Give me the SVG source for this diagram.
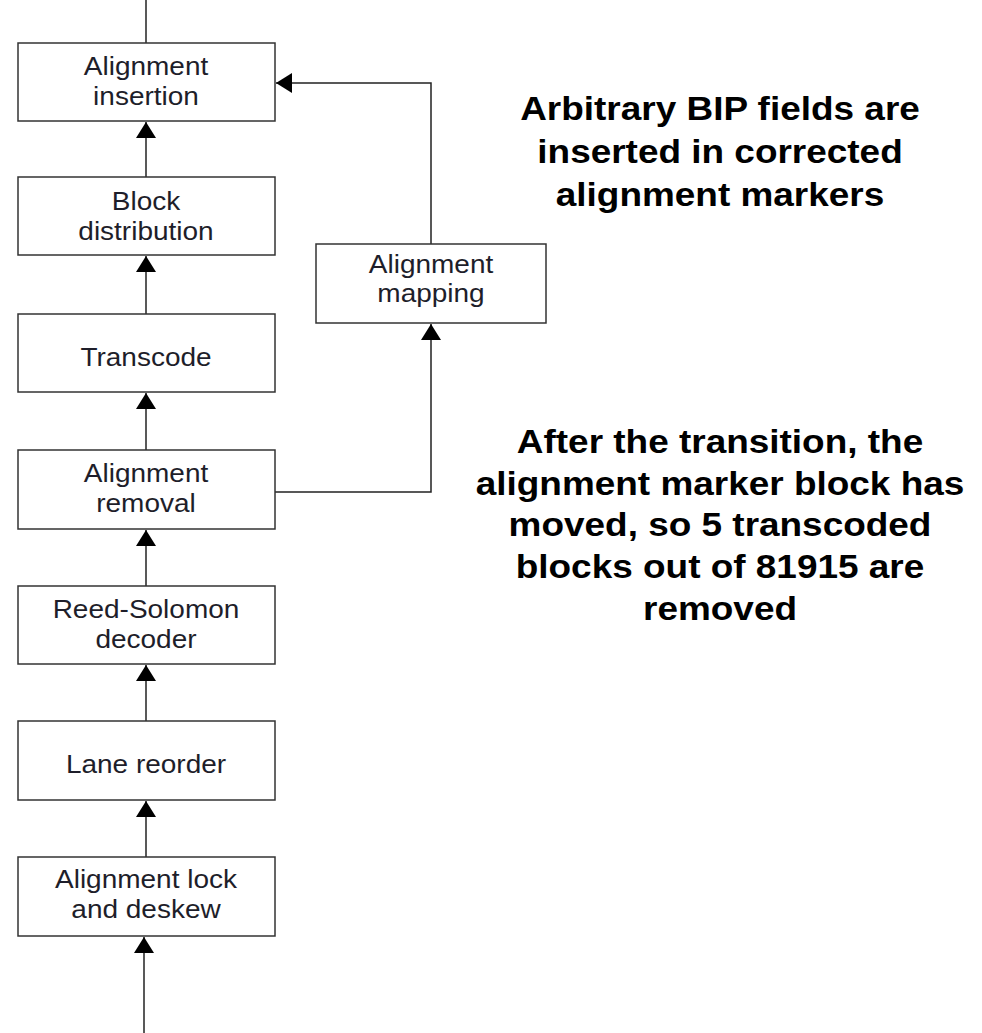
<svg xmlns="http://www.w3.org/2000/svg" width="982" height="1033" viewBox="0 0 982 1033">
  <style>
    .box { fill: #ffffff; stroke: #333333; stroke-width: 1.5; }
    .wire { fill: none; stroke: #222222; stroke-width: 1.5; }
    .lbl { font-family: "Liberation Sans", Arial, sans-serif; font-size: 25px; fill: #1e1e2a; text-anchor: middle; }
    .note { font-family: "Liberation Sans", Arial, sans-serif; font-size: 33px; font-weight: bold; fill: #000000; text-anchor: middle; }
  </style>
  <defs>
    <marker id="arr" viewBox="0 0 16 20" refX="16" refY="10" markerWidth="16" markerHeight="20" markerUnits="userSpaceOnUse" orient="auto">
      <path d="M0,0 L16,10 L0,20 Z" fill="#000000"/>
    </marker>
  </defs>
  <rect width="982" height="1033" fill="#ffffff"/>

  <g id="connectors">
    <line class="wire" x1="146" y1="0" x2="146" y2="43"/>
    <line class="wire" x1="146" y1="177" x2="146" y2="122" marker-end="url(#arr)"/>
    <line class="wire" x1="146" y1="314" x2="146" y2="256" marker-end="url(#arr)"/>
    <line class="wire" x1="146" y1="450" x2="146" y2="393" marker-end="url(#arr)"/>
    <line class="wire" x1="146" y1="586" x2="146" y2="530" marker-end="url(#arr)"/>
    <line class="wire" x1="146" y1="721" x2="146" y2="665" marker-end="url(#arr)"/>
    <line class="wire" x1="146" y1="857" x2="146" y2="801" marker-end="url(#arr)"/>
    <line class="wire" x1="144" y1="1033" x2="144" y2="937" marker-end="url(#arr)"/>
    <polyline class="wire" points="275,492 431,492 431,324" marker-end="url(#arr)"/>
    <polyline class="wire" points="431,244 431,83 276,83" marker-end="url(#arr)"/>
  </g>

  <g id="alignment-insertion">
    <rect class="box" x="18" y="43" width="257" height="78"/>
    <text class="lbl" transform="translate(146,75) scale(1.12,1)"><tspan x="0">Alignment</tspan><tspan x="0" dy="30">insertion</tspan></text>
  </g>
  <g id="block-distribution">
    <rect class="box" x="18" y="177" width="257" height="78"/>
    <text class="lbl" transform="translate(146,210) scale(1.12,1)"><tspan x="0">Block</tspan><tspan x="0" dy="30">distribution</tspan></text>
  </g>
  <g id="transcode">
    <rect class="box" x="18" y="314" width="257" height="78"/>
    <text class="lbl" transform="translate(146,366) scale(1.12,1)">Transcode</text>
  </g>
  <g id="alignment-removal">
    <rect class="box" x="18" y="450" width="257" height="79"/>
    <text class="lbl" transform="translate(146,482) scale(1.12,1)"><tspan x="0">Alignment</tspan><tspan x="0" dy="30">removal</tspan></text>
  </g>
  <g id="reed-solomon-decoder">
    <rect class="box" x="18" y="586" width="257" height="78"/>
    <text class="lbl" transform="translate(146,618) scale(1.12,1)"><tspan x="0">Reed-Solomon</tspan><tspan x="0" dy="30">decoder</tspan></text>
  </g>
  <g id="lane-reorder">
    <rect class="box" x="18" y="721" width="257" height="79"/>
    <text class="lbl" transform="translate(146,773) scale(1.12,1)">Lane reorder</text>
  </g>
  <g id="alignment-lock">
    <rect class="box" x="18" y="857" width="257" height="79"/>
    <text class="lbl" transform="translate(146,888) scale(1.12,1)"><tspan x="0">Alignment lock</tspan><tspan x="0" dy="30">and deskew</tspan></text>
  </g>
  <g id="alignment-mapping">
    <rect class="box" x="316" y="244" width="230" height="79"/>
    <text class="lbl" transform="translate(431,273) scale(1.12,1)"><tspan x="0">Alignment</tspan><tspan x="0" dy="29">mapping</tspan></text>
  </g>

  <g id="note-bip">
    <text class="note" transform="translate(720,120) scale(1.12,1)"><tspan x="0">Arbitrary BIP fields are</tspan><tspan x="0" dy="43">inserted in corrected</tspan><tspan x="0" dy="43">alignment markers</tspan></text>
  </g>
  <g id="note-transition">
    <text class="note" transform="translate(720,453) scale(1.12,1)"><tspan x="0">After the transition, the</tspan><tspan x="0" dy="41.7">alignment marker block has</tspan><tspan x="0" dy="41.7">moved, so 5 transcoded</tspan><tspan x="0" dy="41.7">blocks out of 81915 are</tspan><tspan x="0" dy="41.7">removed</tspan></text>
  </g>
</svg>
